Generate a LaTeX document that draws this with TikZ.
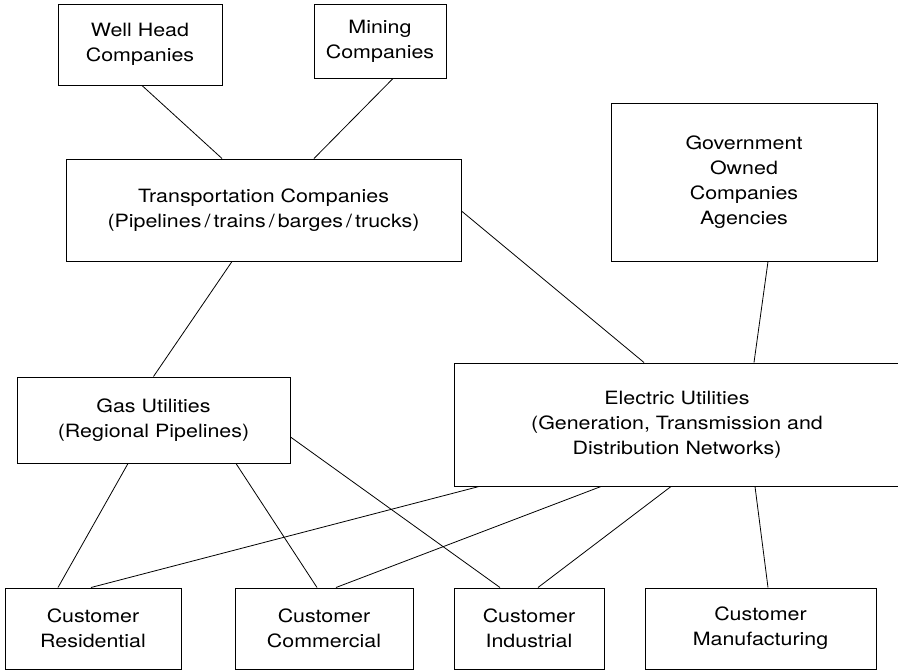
\documentclass[tikz,border=0pt]{standalone}
\usepackage{fontspec}
\setmainfont{TeX Gyre Heros}[FakeStretch=1.17]
\usetikzlibrary{calc}
\begin{document}
\begin{tikzpicture}[x=1pt,y=-1pt,
  box/.style={draw, line width=1pt, inner sep=0pt, align=center,
    font=\fontsize{18.3}{25}\selectfont},
  conn/.style={line width=0.8pt}]
\useasboundingbox (0,0) rectangle (898,670);
\node[box, minimum width=164, minimum height=81] (wh) at (140,44.5) {Well Head\\Companies};
\node[box, minimum width=132, minimum height=74] (mc) at (380,41) {Mining\\Companies};
\node[box, minimum width=395, minimum height=102] (tr) at (263.5,210) {Transportation Companies\\(Pipelines\,/\,trains\,/\,barges\,/\,trucks)};
\node[box, minimum width=266, minimum height=158] (gov) at (744,182) {Government\\Owned\\Companies\\Agencies};
\node[box, minimum width=273, minimum height=86] (gas) at (153.5,420) {Gas Utilities\\(Regional Pipelines)};
\node[box, minimum width=446, minimum height=123] (el) at (677,424.5) {Electric Utilities\\(Generation, Transmission and\\Distribution Networks)};
\node[box, minimum width=176, minimum height=81] (res) at (93,628.5) {Customer\\Residential};
\node[box, minimum width=178, minimum height=81] (com) at (324,628.5) {Customer\\Commercial};
\node[box, minimum width=150, minimum height=81] (ind) at (529,628.5) {Customer\\Industrial};
\node[box, minimum width=231, minimum height=81] (man) at (760.5,628.5) {Customer\\Manufacturing};
% connectors
\draw[conn] ($(wh.south)+(2,0)$) -- ($(tr.north)+(-41.5,0)$);
\draw[conn] ($(mc.south)+(13,0)$) -- ($(tr.north)+(50.5,0)$);
\draw[conn] ($(tr.south)+(-31.5,0)$) -- (gas.north);
\draw[conn] ($(tr.east)+(0,1)$) -- ($(el.north)+(-33,0)$);
\draw[conn] ($(gov.south)+(24,0)$) -- ($(el.north)+(77,0)$);
\draw[conn] ($(gas.south)+(-25.5,0)$) -- ($(res.north)+(-35,0)$);
\draw[conn] ($(gas.south)+(82.5,0)$) -- ($(com.north)+(-7,0)$);
\draw[conn] ($(gas.east)+(0,17)$) -- ($(ind.north)+(-29,0)$);
\draw[conn] ($(el.south)+(-198,0)$) -- ($(res.north)+(-2,0)$);
\draw[conn] ($(el.south)+(-76,0)$) -- ($(com.north)+(12,0)$);
\draw[conn] ($(el.south)+(-6,0)$) -- ($(ind.north)+(9,0)$);
\draw[conn] ($(el.south)+(78,0)$) -- ($(man.north)+(7.5,0)$);
\end{tikzpicture}
\end{document}
